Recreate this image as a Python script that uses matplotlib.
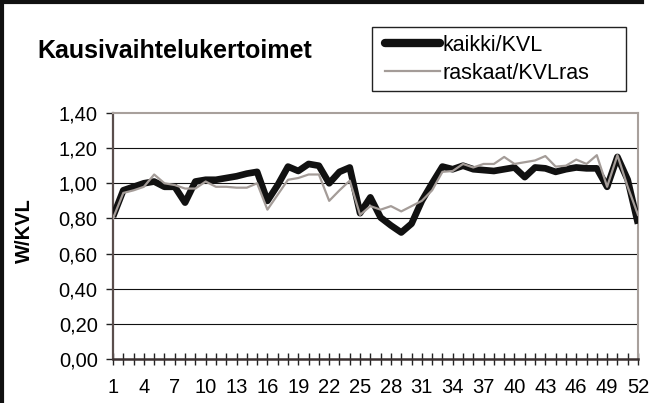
import matplotlib
matplotlib.use("Agg")
import matplotlib.pyplot as plt
from matplotlib.lines import Line2D
from matplotlib.patches import Rectangle

weeks = list(range(1, 53))
kaikki = [0.81, 0.96, 0.98, 1.00, 1.01, 0.98, 0.98, 0.89, 1.01, 1.02,
          1.02, 1.03, 1.04, 1.055, 1.065, 0.90, 0.99, 1.095, 1.07, 1.11,
          1.10, 1.00, 1.065, 1.09, 0.83, 0.92, 0.805, 0.76, 0.72, 0.77,
          0.90, 1.00, 1.095, 1.08, 1.10, 1.08, 1.075, 1.07, 1.08, 1.09,
          1.035, 1.09, 1.085, 1.065, 1.08, 1.09, 1.085, 1.085, 0.98, 1.15,
          1.02, 0.77]
raskaat = [0.80, 0.945, 0.96, 0.98, 1.05, 1.00, 0.99, 0.97, 0.97, 1.01,
           0.98, 0.98, 0.975, 0.975, 1.00, 0.85, 0.935, 1.02, 1.03, 1.05,
           1.05, 0.90, 0.96, 1.015, 0.82, 0.87, 0.85, 0.87, 0.84, 0.87,
           0.90, 0.96, 1.065, 1.07, 1.11, 1.09, 1.11, 1.11, 1.15, 1.11,
           1.12, 1.13, 1.155, 1.095, 1.10, 1.135, 1.11, 1.16, 0.98, 1.16,
           0.98, 0.82]
yticks = [0.0, 0.2, 0.4, 0.6, 0.8, 1.0, 1.2, 1.4]
ytick_labels = ["0,00", "0,20", "0,40", "0,60", "0,80", "1,00", "1,20", "1,40"]
xtick_labels = [str(w) if (w - 1) % 3 == 0 else "" for w in weeks]

plt.rcParams['font.family'] = ['Liberation Sans', 'DejaVu Sans']

fig = plt.figure(figsize=(6.52, 4.03), dpi=100)
W, H = 652, 403
ax = fig.add_axes([113 / W, 1 - 359 / H, (638 - 113) / W, (359 - 113) / H])

ax.plot(weeks, kaikki, color="#111111", lw=4.8, solid_joinstyle="round",
        solid_capstyle="butt", label="kaikki/KVL", zorder=3)
ax.plot(weeks, raskaat, color="#a49c98", lw=1.6, label="raskaat/KVLras", zorder=4)

ax.set_xlim(1, 52)
ax.set_ylim(0, 1.4)
ax.set_yticks(yticks)
ax.set_yticklabels(ytick_labels, fontsize=14.5)
ax.set_xticks(weeks)
ax.set_xticklabels(xtick_labels, fontsize=14.5)
for y in yticks[1:-1]:
    ax.axhline(y, color="#111111", lw=0.8, zorder=1)

ax.tick_params(axis="x", direction="inout", length=9, width=1.0, color="#222222", pad=9)
ax.tick_params(axis="y", direction="out", length=5, width=1.0, color="#222222", pad=6)
ax.spines["top"].set_color("#a8a09c")
ax.spines["right"].set_color("#a8a09c")
ax.spines["top"].set_linewidth(1.5)
ax.spines["right"].set_linewidth(1.5)
ax.spines["left"].set_color("#5a4e4c")
ax.spines["left"].set_linewidth(1.6)
ax.spines["bottom"].set_color("#3a3030")
ax.spines["bottom"].set_linewidth(1.8)

ax.set_ylabel("W/KVL", fontsize=14.5, fontweight="bold")
ax.yaxis.set_label_coords((34 - 113) / 525, 0.52)

fig.text(37 / W, 1 - 51 / H, "Kausivaihtelukertoimet", fontsize=18,
         fontweight="bold", va="center", ha="left")

handles = [Line2D([], [], color="#111111", lw=6, solid_capstyle="round"),
           Line2D([], [], color="#a49c98", lw=1.6)]
leg = fig.legend(handles, ["kaikki/KVL", "raskaat/KVLras"],
                 loc="upper left", bbox_to_anchor=(385 / W, 1 - 35 / H),
                 frameon=False, fontsize=15.5, handlelength=2.55,
                 handletextpad=0.1, borderpad=0, labelspacing=0.32,
                 borderaxespad=0)
fig.add_artist(Rectangle((372 / W, 1 - 91 / H), (626 - 372) / W, 64 / H,
                         transform=fig.transFigure, fill=False,
                         edgecolor="#222222", lw=1.0))

# outer chart frame (left and top visible)
fig.add_artist(Line2D([2 / W, 2 / W], [0, 1 - 2 / H], color="#111111", lw=3,
                      transform=fig.transFigure))
fig.add_artist(Line2D([2 / W, 642 / W], [1 - 2 / H, 1 - 2 / H], color="#111111",
                      lw=3, transform=fig.transFigure))

fig.savefig("out.png", dpi=100)
